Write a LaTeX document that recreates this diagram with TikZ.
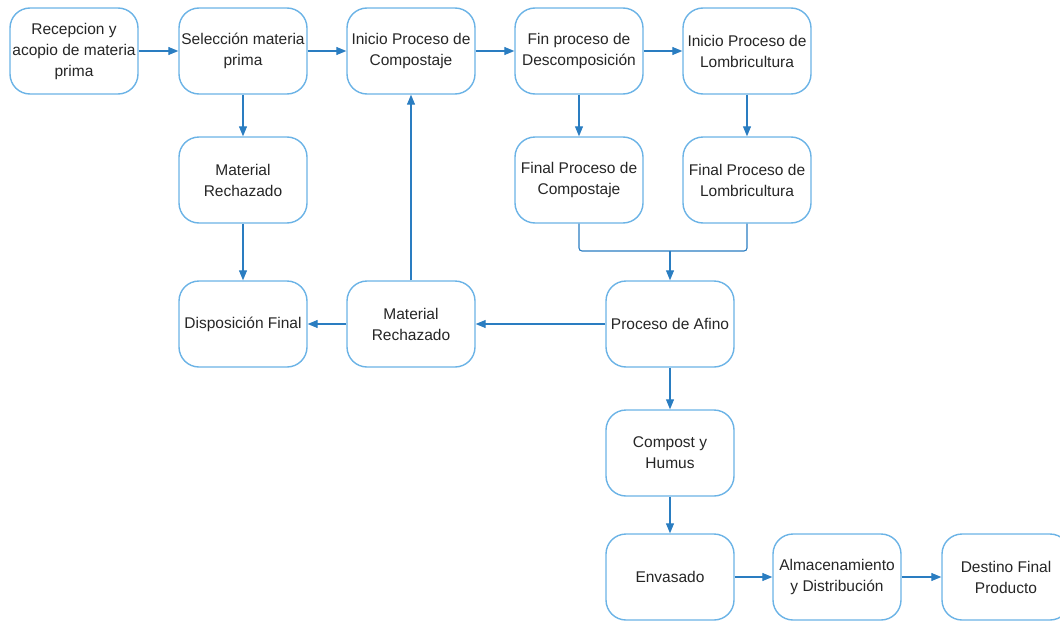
\documentclass[tikz,border=0pt]{standalone}
\usepackage{fontspec}
\setmainfont{Liberation Sans}
\usetikzlibrary{arrows.meta}
\definecolor{boxblue}{HTML}{6BB3E6}
\definecolor{linkblue}{HTML}{2A7DC1}
\begin{document}
\begin{tikzpicture}[x=1pt,y=-1pt,
  proc/.style={draw=boxblue, line width=1.4pt, rounded corners=20pt, fill=white,
    minimum width=128pt, minimum height=86pt, inner sep=1pt, align=center,
    font=\fontsize{15.5}{21}\selectfont, text=black!85},
  link/.style={draw=linkblue, line width=1.1pt, -{Triangle[length=10pt,width=8pt]}},
  plain/.style={draw=linkblue, line width=1.1pt, rounded corners=3pt}]
\useasboundingbox (0,0) rectangle (1060,621);
\begin{scope}
\clip (0,0) rectangle (1060,621);
\node[proc] (b1) at (74,51) {Recepcion y\\acopio de materia\\prima};
\node[proc] (b2) at (243,51) {Selección materia\\prima};
\node[proc] (b3) at (411,51) {Inicio Proceso de\\Compostaje};
\node[proc] (b4) at (579,51) {Fin proceso de\\Descomposición};
\node[proc] (b5) at (747,51) {Inicio Proceso de\\Lombricultura};
\node[proc] (mr1) at (243,180) {Material\\Rechazado};
\node[proc] (fc) at (579,180) {Final Proceso de\\Compostaje};
\node[proc] (fl) at (747,180) {Final Proceso de\\Lombricultura};
\node[proc] (df) at (243,324) {Disposición Final};
\node[proc] (mr2) at (411,324) {Material\\Rechazado};
\node[proc] (pa) at (670,324) {Proceso de Afino};
\node[proc] (ch) at (670,453) {Compost y\\Humus};
\node[proc] (en) at (670,577) {Envasado};
\node[proc] (ad) at (837,577) {Almacenamiento\\y Distribución};
\node[proc] (ds) at (1006,577) {Destino Final\\Producto};
\end{scope}
\coordinate (j) at (670,251);
\draw[link] (b1) -- (b2);
\draw[link] (b2) -- (b3);
\draw[link] (b3) -- (b4);
\draw[link] (b4) -- (b5);
\draw[link] (b2) -- (mr1);
\draw[link] (mr1) -- (df);
\draw[link] (mr2) -- (b3);
\draw[link] (b4) -- (fc);
\draw[link] (b5) -- (fl);
\draw[plain] (fc.south) |- (j);
\draw[plain] (fl.south) |- (j);
\draw[link] (j) -- (pa.north);
\draw[link] (pa) -- (mr2);
\draw[link] (mr2) -- (df);
\draw[link] (pa) -- (ch);
\draw[link] (ch) -- (en);
\draw[link] (en) -- (ad);
\draw[link] (ad) -- (ds);
\end{tikzpicture}
\end{document}
